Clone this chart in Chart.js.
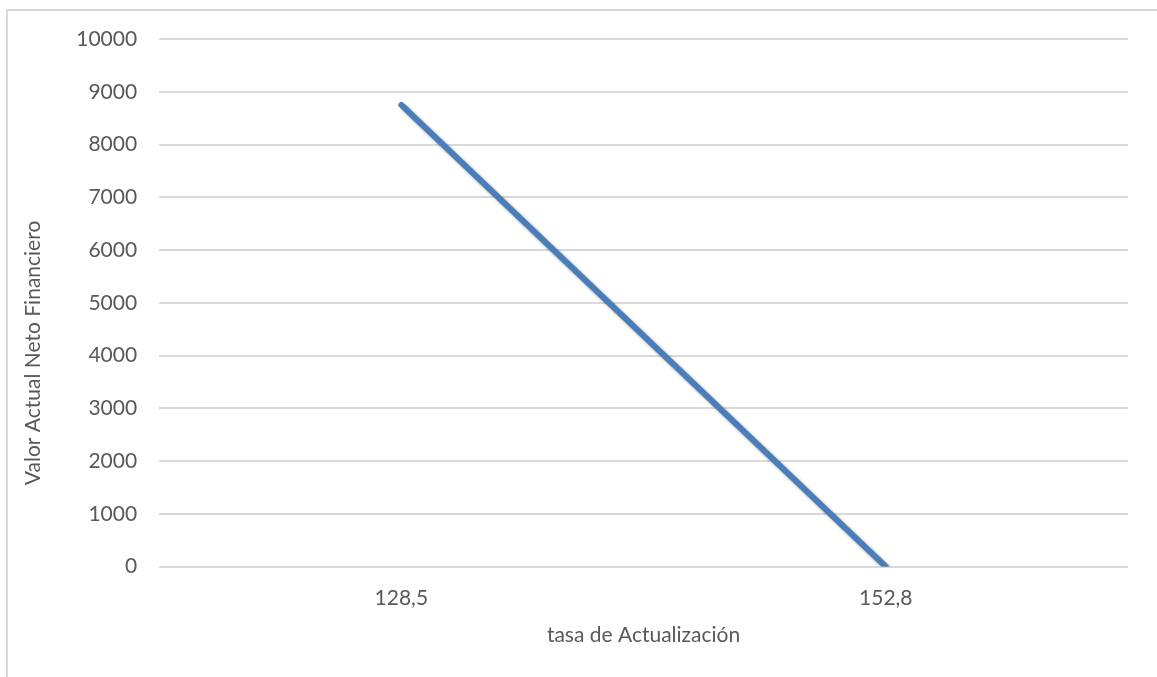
<!DOCTYPE html>
<html>
<head>
<meta charset="utf-8">
<script src="https://cdn.jsdelivr.net/npm/chart.js@4.4.1/dist/chart.umd.min.js"></script>
<style>
  html, body { margin: 0; padding: 0; background: #fff; overflow: hidden; }
  #frame {
    position: absolute; left: 6px; top: 9px; width: 1200px; height: 720px;
    border-top: 2px solid #d9d9d9; border-left: 2px solid #d9d9d9;
  }
  #wrap { position: absolute; left: 0; top: 0; width: 1157px; height: 677px; }
</style>
</head>
<body>
<div id="frame"></div>
<div id="wrap"><canvas id="myChart"></canvas></div>
<script>
// Datos del gráfico
const categorias = ["128,5", "152,8"];
const valores = [8750, 0];
const ticksY = [0, 1000, 2000, 3000, 4000, 5000, 6000, 7000, 8000, 9000, 10000];
const tituloY = "Valor Actual Neto Financiero";
const tituloX = "tasa de Actualización";

const textColor = "#595959";
const gridColor = "#d9d9d9";
const fuente = "Lato, 'Open Sans', sans-serif";

// sombra de la línea, como en Excel
const sombra = {
  id: "sombra",
  beforeDatasetDraw(chart) {
    const ctx = chart.ctx;
    ctx.save();
    ctx.shadowColor = "rgba(0,0,0,0.4)";
    ctx.shadowBlur = 3;
    ctx.shadowOffsetX = 3;
    ctx.shadowOffsetY = 3;
  },
  afterDatasetDraw(chart) {
    chart.ctx.restore();
  },
};

// el título del eje Y en Excel queda algo más abajo del centro
const tituloEjeY = {
  id: "tituloEjeY",
  afterDraw(chart) {
    const ctx = chart.ctx;
    const area = chart.chartArea;
    const y = area.top + (area.bottom - area.top) * 0.595;
    ctx.save();
    ctx.translate(33, y);
    ctx.rotate(-Math.PI / 2);
    ctx.fillStyle = textColor;
    ctx.font = "21px " + fuente;
    ctx.textAlign = "center";
    ctx.textBaseline = "middle";
    ctx.fillText(tituloY, 0, 0);
    ctx.restore();
  },
};

const config = {
  type: "line",
  data: {
    labels: categorias,
    datasets: [
      {
        data: valores,
        borderColor: "#4a7ebb",
        borderWidth: 6,
        borderCapStyle: "round",
        pointRadius: 0,
        tension: 0,
        fill: false,
      },
    ],
  },
  options: {
    responsive: false,
    animation: false,
    layout: { padding: { left: 23, right: 29, top: 39, bottom: 29 } },
    plugins: {
      legend: { display: false },
      tooltip: { enabled: false },
    },
    scales: {
      x: {
        offset: true,
        grid: { display: false },
        border: { display: false },
        ticks: { color: textColor, font: { family: fuente, size: 21 }, padding: 11 },
        title: {
          display: true,
          text: tituloX,
          color: textColor,
          font: { family: fuente, size: 21 },
          padding: { top: 1, bottom: 0 },
        },
      },
      y: {
        min: 0,
        max: 10000,
        afterBuildTicks: (axis) => {
          axis.ticks = ticksY.map((v) => ({ value: v }));
        },
        grid: { color: gridColor, lineWidth: 2, drawTicks: false },
        border: { display: false },
        ticks: {
          color: textColor,
          font: { family: fuente, size: 21 },
          padding: 22,
          callback: (value) => String(value),
        },
        title: {
          // reserva el espacio; el texto lo dibuja el plugin tituloEjeY
          display: true,
          text: tituloY,
          color: "rgba(0,0,0,0)",
          font: { family: fuente, size: 21 },
          padding: { top: 0, bottom: 6 },
        },
      },
    },
  },
  plugins: [sombra, tituloEjeY],
};

window.onload = function () {
  const canvas = document.getElementById("myChart");
  canvas.width = 1157;
  canvas.height = 677;
  const ctx = canvas.getContext("2d");
  const myChart = new Chart(ctx, config);
};
</script>
</body>
</html>
